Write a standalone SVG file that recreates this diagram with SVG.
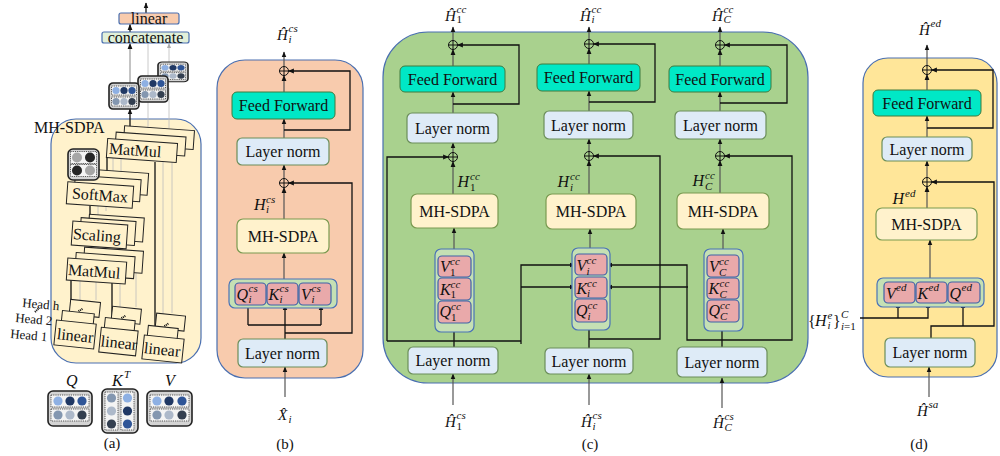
<svg xmlns="http://www.w3.org/2000/svg" width="1000" height="456" viewBox="0 0 1000 456">
<style>
.t{font-family:"Liberation Serif",serif;font-size:16px;fill:#111;text-anchor:middle}
.ta{font-family:"Liberation Serif",serif;font-size:16px;fill:#111}
.hd{font-family:"Liberation Serif",serif;font-size:13px;fill:#111}
.cap{font-family:"Liberation Serif",serif;font-size:15px;fill:#111;text-anchor:middle}
.m{font-family:"Liberation Serif",serif;font-style:italic;font-size:15px;fill:#111}
.mb{font-family:"Liberation Serif",serif;font-style:italic;font-size:16px;fill:#111}
.s{font-family:"Liberation Serif",serif;font-style:italic;font-size:11px;fill:#111}
.n{font-family:"Liberation Serif",serif;font-size:11px;fill:#111}
.up{font-family:"Liberation Serif",serif;font-size:16px;fill:#111}
.ff{fill:#00e8c6;stroke:#3f7a3f;stroke-width:1}
.ln{fill:#deebf7;stroke:#6b8e5a;stroke-width:1.2}
.sd{fill:#fff2cc;stroke:#7a9a50;stroke-width:1.2}
.grp{fill:#c5e0b4;stroke:#4a72b8;stroke-width:1.2}
.pk{fill:#e9a9aa;stroke:#3f62a8;stroke-width:1.2}
.w{fill:none;stroke:#555;stroke-width:1.2}
.k{fill:none;stroke:#111;stroke-width:1.3}
.g{fill:none;stroke:#bdbdbd;stroke-width:0.8}
.op{fill:#fff2cc;stroke:#222;stroke-width:1}
.mx{fill:#d4d4d4;stroke:#222;stroke-width:1.6}
.row{fill:#f4f4f4;stroke:#333;stroke-width:0.8;stroke-dasharray:1.2 1}
.pan{stroke:#4a6fb0;stroke-width:1.2}
</style>
<defs>
<marker id="ah" viewBox="0 0 10 10" refX="9" refY="5" markerWidth="6" markerHeight="6" markerUnits="userSpaceOnUse" orient="auto"><path d="M0,1 L10,5 L0,9 z" fill="#111"/></marker>
<marker id="ahg" viewBox="0 0 10 10" refX="9" refY="5" markerWidth="5" markerHeight="5" markerUnits="userSpaceOnUse" orient="auto"><path d="M0,1 L10,5 L0,9 z" fill="#aaa"/></marker>
<g id="op"><circle r="4.5" fill="none" stroke="#111" stroke-width="1"/><path d="M-4.5,0H4.5M0,-4.5V4.5" stroke="#111" stroke-width="1"/></g>
<g id="m23">
<rect x="0" y="0" width="30" height="26" rx="4" class="mx"/>
<rect x="2.5" y="3" width="25" height="9" class="row"/>
<rect x="2.5" y="14" width="25" height="9" class="row"/>
<circle cx="7" cy="7.5" r="3.6" fill="#8eb0e3"/>
<circle cx="15" cy="7.5" r="3.6" fill="#203864"/>
<circle cx="23" cy="7.5" r="3.6" fill="#2f5597"/>
<circle cx="7" cy="18.5" r="3.6" fill="#8497b0"/>
<circle cx="15" cy="18.5" r="3.6" fill="#adb9ca"/>
<circle cx="23" cy="18.5" r="3.6" fill="#333f50"/>
</g>
</defs>

<!-- panel backgrounds -->
<g id="panel-a"><rect class="pan" x="51" y="119" width="150" height="244" rx="25" fill="#fff2cc"/></g>
<g id="panel-b"><rect class="pan" x="217" y="60" width="146" height="318" rx="28" fill="#f8cbad"/></g>
<g id="panel-c"><rect class="pan" x="383" y="32" width="425" height="351" rx="45" fill="#a9d18e"/></g>
<g id="panel-d"><rect class="pan" x="863" y="58" width="134" height="319" rx="25" fill="#ffe699"/></g>

<!-- connectors -->
<g id="connectors">
<!-- (a) light lines -->
<path class="g" d="M80,313V266M96,300V254M120,320V267M136,307V255M163,327V148M172,313V141M98,254V241M106,248V235M98,217V200M106,211V193M113,178V153M121,171V146M148,135V102M169,128V88"/>
<path class="g" d="M148,76V43.5M169,62V43.5" marker-end="url(#ahg)"/>
<path d="M130,83V43.5" fill="none" stroke="#888" stroke-width="1" marker-end="url(#ah)"/>
<path class="k" stroke-width="1" d="M130,32V24.5" marker-end="url(#ah)"/>
<path class="k" stroke-width="1" d="M146,13V3" marker-end="url(#ah)"/>
<path class="k" stroke-width="1" d="M71,322V279M112,329V282M155,337V162M90,260V247M90,223V206M107,184V158M130,141V109" marker-end="url(#ah)"/>

<!-- (b) -->
<path class="w" d="M284,66.5V52" marker-end="url(#ah)"/>
<path class="w" d="M284,92V75.5" marker-end="url(#ah)"/>
<path class="w" d="M284,138V119" marker-end="url(#ah)"/>
<path class="k" d="M284,130H350V71H288.5" marker-end="url(#ah)"/>
<path class="w" d="M284,178.5V165" marker-end="url(#ah)"/>
<path class="w" d="M284,219V187.5" marker-end="url(#ah)"/>
<path class="w" d="M284,279V253" marker-end="url(#ah)"/>
<path class="k" d="M285,333H352V183H288.5" marker-end="url(#ah)"/>
<path class="k" d="M285,339V305" marker-end="url(#ah)"/>
<path class="k" d="M248,325H321"/>
<path class="k" d="M248,325V305M321,325V305" marker-end="url(#ah)"/>
<path class="w" d="M285,397V367" marker-end="url(#ah)"/>

<!-- (c) col1 -->
<path class="w" d="M453,66V49.5" marker-end="url(#ah)"/>
<path class="w" d="M453,40.5V27" marker-end="url(#ah)"/>
<path class="w" d="M453,113V92" marker-end="url(#ah)"/>
<path class="k" d="M453,104H519V45H457.5" marker-end="url(#ah)"/>
<path class="w" d="M453,152.5V143" marker-end="url(#ah)"/>
<path class="w" d="M453,194V161.5" marker-end="url(#ah)"/>
<path class="w" d="M454,249V228" marker-end="url(#ah)"/>
<path class="k" d="M454,347V323" marker-end="url(#ah)"/>
<path class="k" d="M387,341V157H448.5" marker-end="url(#ah)"/>
<path class="k" d="M387,341H521"/>
<path class="k" d="M521,344V265H575" marker-end="url(#ah)"/>
<path class="k" d="M521,287H575" marker-end="url(#ah)"/>
<path class="w" d="M453,405V374" marker-end="url(#ah)"/>
<!-- (c) col2 -->
<path class="w" d="M589,64V48.5" marker-end="url(#ah)"/>
<path class="w" d="M589,39.5V27" marker-end="url(#ah)"/>
<path class="w" d="M589,111V91" marker-end="url(#ah)"/>
<path class="k" d="M589,102H655V44H593.5" marker-end="url(#ah)"/>
<path class="w" d="M589,151.5V139" marker-end="url(#ah)"/>
<path class="w" d="M589,194V160.5" marker-end="url(#ah)"/>
<path class="w" d="M590,248V229" marker-end="url(#ah)"/>
<path class="k" d="M589,348V322" marker-end="url(#ah)"/>
<path class="k" d="M589,339H660V156H593.5" marker-end="url(#ah)"/>
<path class="w" d="M589,405V374" marker-end="url(#ah)"/>
<!-- (c) col3 -->
<path class="w" d="M720,66V49.5" marker-end="url(#ah)"/>
<path class="w" d="M720,40.5V27" marker-end="url(#ah)"/>
<path class="w" d="M720,111V92" marker-end="url(#ah)"/>
<path class="k" d="M720,103H787V45H724.5" marker-end="url(#ah)"/>
<path class="w" d="M720,151.5V139" marker-end="url(#ah)"/>
<path class="w" d="M720,193V160.5" marker-end="url(#ah)"/>
<path class="w" d="M723,249V229" marker-end="url(#ah)"/>
<path class="k" d="M722,347V322" marker-end="url(#ah)"/>
<path class="k" d="M722,340H792V156H724.5" marker-end="url(#ah)"/>
<path class="k" d="M722,340H687V265H607" marker-end="url(#ah)"/>
<path class="k" d="M688,287H607" marker-end="url(#ah)"/>
<path class="w" d="M722,408V378" marker-end="url(#ah)"/>

<!-- (d) -->
<path class="w" d="M927,65.5V45" marker-end="url(#ah)"/>
<path class="w" d="M927,90V74.5" marker-end="url(#ah)"/>
<path class="w" d="M927,137V116" marker-end="url(#ah)"/>
<path class="k" d="M927,128H993V70H931.5" marker-end="url(#ah)"/>
<path class="w" d="M927,177.5V161" marker-end="url(#ah)"/>
<path class="w" d="M927,208V186.5" marker-end="url(#ah)"/>
<path class="w" d="M930,278V240" marker-end="url(#ah)"/>
<path class="k" d="M860,318H928V303" marker-end="url(#ah)"/>
<path class="k" d="M898,318V303" marker-end="url(#ah)"/>
<path class="k" d="M931,338V326H994V182H931.5" marker-end="url(#ah)"/>
<path class="k" d="M963,326V303" marker-end="url(#ah)"/>
<path class="w" d="M929,397V367" marker-end="url(#ah)"/>
</g>

<!-- ===== panel (a) nodes ===== -->
<g id="a-linear-out"><rect x="119" y="13" width="60" height="11" rx="2" fill="#f8cbad" stroke="#4a6fb0" stroke-width="1.2"/><text class="t" x="149" y="23.5">linear</text></g>
<g id="a-concat"><rect x="102" y="32" width="87" height="11" rx="2" fill="#e2f0d9" stroke="#4a6fb0" stroke-width="1.2"/><text class="t" x="145.5" y="42.5">concatenate</text></g>
<g id="a-heads-out">
<use href="#m23" transform="translate(158,62) scale(1,0.76)"/>
<use href="#m23" x="138" y="76"/>
<use href="#m23" x="109" y="83"/>
</g>
<text class="ta" x="34" y="133">MH-SDPA</text>
<g id="a-matmul2" transform="rotate(4 142 150)">
<rect class="op" x="123" y="127" width="70" height="19"/>
<rect class="op" x="115" y="134" width="70" height="19"/>
<rect class="op" x="107" y="141" width="70" height="19"/>
<text class="ta" x="109" y="156">MatMul</text>
</g>
<g id="a-softmax" transform="rotate(4 100 195)">
<rect class="op" x="81" y="170" width="66" height="22"/>
<rect class="op" x="74" y="177" width="66" height="22"/>
<rect class="op" x="67" y="184" width="66" height="22"/>
<text class="ta" x="72" y="200.5">SoftMax</text>
</g>
<g id="a-attn">
<rect x="68" y="149" width="31" height="31" rx="5" class="mx"/>
<rect x="70.5" y="151.5" width="26" height="12" class="row"/>
<rect x="70.5" y="164.5" width="26" height="12" class="row"/>
<circle cx="77" cy="157.5" r="5" fill="#a6a6a6"/>
<circle cx="90" cy="157.5" r="5" fill="#262626"/>
<circle cx="77" cy="170.5" r="5" fill="#262626"/>
<circle cx="90" cy="170.5" r="5" fill="#a6a6a6"/>
</g>
<g id="a-scaling" transform="rotate(4 100 235)">
<rect class="op" x="88" y="215" width="55" height="24"/>
<rect class="op" x="80" y="219" width="55" height="24"/>
<rect class="op" x="72" y="223" width="55" height="24"/>
<text class="ta" x="73" y="241">Scaling</text>
</g>
<g id="a-matmul1" transform="rotate(4 96 271)">
<rect class="op" x="83" y="248" width="59" height="22"/>
<rect class="op" x="75" y="254" width="59" height="22"/>
<rect class="op" x="67" y="260" width="59" height="22"/>
<text class="ta" x="68" y="277">MatMul</text>
</g>
<g id="a-linear1" transform="rotate(6 75 335)">
<rect class="op" x="67" y="300" width="30" height="15"/>
<rect class="op" x="60" y="312" width="32" height="15"/>
<path d="M76,311L80,308" stroke="#111" stroke-width="2" stroke-dasharray="1 0.8"/>
<rect class="op" x="55" y="322" width="40" height="25"/>
<text class="ta" x="57" y="341">linear</text>
</g>
<g id="a-linear2" transform="rotate(6 118 341)">
<rect class="op" x="109" y="307" width="29" height="15"/>
<rect class="op" x="103" y="319" width="30" height="15"/>
<path d="M119,318L123,315" stroke="#111" stroke-width="2" stroke-dasharray="1 0.8"/>
<rect class="op" x="100" y="329" width="37" height="25"/>
<text class="ta" x="101" y="348">linear</text>
</g>
<g id="a-linear3" transform="rotate(6 163 349)">
<rect class="op" x="153" y="314" width="29" height="15"/>
<rect class="op" x="146" y="327" width="30" height="15"/>
<path d="M162,326L166,323" stroke="#111" stroke-width="2" stroke-dasharray="1 0.8"/>
<rect class="op" x="143" y="337" width="40" height="24"/>
<text class="ta" x="144" y="355">linear</text>
</g>
<g id="a-heads">
<text class="hd" x="22" y="307" transform="rotate(5 22 307)">Head h</text>
<path d="M35,312L39,308" stroke="#111" stroke-width="2" stroke-dasharray="1 0.8"/>
<text class="hd" x="15" y="322" transform="rotate(5 15 322)">Head 2</text>
<text class="hd" x="10" y="338" transform="rotate(5 10 338)">Head 1</text>
</g>
<g id="a-Q">
<text class="mb" x="66" y="386" font-size="17">Q</text>
<rect x="48" y="391" width="44" height="35" rx="5" class="mx"/>
<rect x="51" y="395" width="38" height="12" class="row"/>
<rect x="51" y="409" width="38" height="12" class="row"/>
<circle cx="58" cy="401" r="4.6" fill="#8eb0e3"/><circle cx="70" cy="401" r="4.6" fill="#203864"/><circle cx="82" cy="401" r="4.6" fill="#2f5597"/>
<circle cx="58" cy="415" r="4.6" fill="#8497b0"/><circle cx="70" cy="415" r="4.6" fill="#adb9ca"/><circle cx="82" cy="415" r="4.6" fill="#333f50"/>
</g>
<g id="a-K">
<text class="mb" x="112" y="386" font-size="17">K</text><text class="s" x="124" y="378" font-size="12">T</text>
<rect x="102" y="389" width="36" height="44" rx="5" class="mx"/>
<rect x="105" y="392" width="13" height="38" class="row"/>
<rect x="121" y="392" width="13" height="38" class="row"/>
<circle cx="111.5" cy="398" r="4.6" fill="#8497b0"/><circle cx="111.5" cy="411" r="4.6" fill="#adb9ca"/><circle cx="111.5" cy="424" r="4.6" fill="#333f50"/>
<circle cx="127.5" cy="398" r="4.6" fill="#8eb0e3"/><circle cx="127.5" cy="411" r="4.6" fill="#203864"/><circle cx="127.5" cy="424" r="4.6" fill="#2f5597"/>
</g>
<g id="a-V">
<text class="mb" x="165" y="386" font-size="17">V</text>
<rect x="147" y="391" width="45" height="35" rx="5" class="mx"/>
<rect x="150" y="395" width="39" height="12" class="row"/>
<rect x="150" y="409" width="39" height="12" class="row"/>
<circle cx="157" cy="401" r="4.6" fill="#8eb0e3"/><circle cx="169" cy="401" r="4.6" fill="#203864"/><circle cx="182" cy="401" r="4.6" fill="#2f5597"/>
<circle cx="157" cy="415" r="4.6" fill="#8497b0"/><circle cx="169" cy="415" r="4.6" fill="#adb9ca"/><circle cx="182" cy="415" r="4.6" fill="#333f50"/>
</g>
<text class="cap" x="112" y="448">(a)</text>

<!-- ===== panel (b) nodes ===== -->
<g id="b-out"><text class="m" x="277" y="40">Ĥ</text><text class="s" x="288.5" y="32">cs</text><text class="s" x="288.5" y="43">i</text></g>
<use id="b-add2" href="#op" x="284" y="71"/>
<g id="b-ff"><rect class="ff" x="232" y="92" width="103" height="27" rx="5"/><text class="t" x="283.5" y="111">Feed Forward</text></g>
<g id="b-ln1"><rect class="ln" x="237" y="138" width="92" height="27" rx="5"/><text class="t" x="283" y="157">Layer norm</text></g>
<use id="b-add1" href="#op" x="284" y="183"/>
<g id="b-h"><text class="mb" x="254" y="210">H</text><text class="s" x="266" y="202.5">cs</text><text class="s" x="266" y="213">i</text></g>
<g id="b-sdpa"><rect class="sd" x="237" y="219" width="92" height="34" rx="6"/><text class="t" x="283" y="241.5">MH-SDPA</text></g>
<g id="b-qkv">
<rect class="grp" x="229" y="279" width="108" height="29" rx="6"/>
<rect class="pk" x="235" y="283" width="31" height="22" rx="4"/>
<rect class="pk" x="267" y="283" width="31" height="22" rx="4"/>
<rect class="pk" x="299" y="283" width="32" height="22" rx="4"/>
<text class="mb" x="236.5" y="300">Q</text><text class="s" x="248.5" y="292">cs</text><text class="s" x="248.5" y="303">i</text>
<text class="mb" x="268.5" y="300">K</text><text class="s" x="279.5" y="292">cs</text><text class="s" x="279.5" y="303">i</text>
<text class="mb" x="301" y="300">V</text><text class="s" x="311.5" y="292">cs</text><text class="s" x="311.5" y="303">i</text>
</g>
<g id="b-ln0"><rect class="ln" x="238" y="339" width="89" height="28" rx="5"/><text class="t" x="282.5" y="358.5">Layer norm</text></g>
<g id="b-in"><text class="m" x="278" y="420">X̂</text><text class="s" x="288.5" y="423">i</text></g>
<text class="cap" x="285" y="449">(b)</text>

<!-- ===== panel (c) nodes ===== -->
<g id="c1-out"><text class="m" x="445" y="21">Ĥ</text><text class="s" x="456.5" y="12.5">cc</text><text class="n" x="456.5" y="23">1</text></g>
<use id="c1-add2" href="#op" x="453" y="45"/>
<g id="c1-ff"><rect class="ff" x="400" y="66" width="105" height="26" rx="5"/><text class="t" x="452.5" y="84.5">Feed Forward</text></g>
<g id="c1-ln1"><rect class="ln" x="407" y="113" width="91" height="30" rx="5"/><text class="t" x="452.5" y="133.5">Layer norm</text></g>
<use id="c1-add1" href="#op" x="453" y="157"/>
<g id="c1-h"><text class="mb" x="457.5" y="187">H</text><text class="s" x="470" y="180">cc</text><text class="n" x="470" y="191">1</text></g>
<g id="c1-sdpa"><rect class="sd" x="411" y="194" width="87" height="34" rx="6"/><text class="t" x="454.5" y="216.5">MH-SDPA</text></g>
<g id="c1-qkv">
<rect class="grp" x="435" y="249" width="39" height="83" rx="6"/>
<rect class="pk" x="438" y="256" width="33" height="21" rx="4"/>
<rect class="pk" x="438" y="278" width="33" height="22" rx="4"/>
<rect class="pk" x="438" y="301" width="33" height="22" rx="4"/>
<text class="mb" x="440" y="272">V</text><text class="s" x="450" y="265">cc</text><text class="n" x="450" y="275.5">1</text>
<text class="mb" x="440" y="294.5">K</text><text class="s" x="450.5" y="287.5">cc</text><text class="n" x="450.5" y="298">1</text>
<text class="mb" x="439.5" y="317">Q</text><text class="s" x="451" y="310">cc</text><text class="n" x="451" y="320.5">1</text>
</g>
<g id="c1-ln0"><rect class="ln" x="408" y="347" width="90" height="27" rx="5"/><text class="t" x="453" y="366">Layer norm</text></g>
<g id="c1-in"><text class="m" x="445" y="427">Ĥ</text><text class="s" x="456.5" y="419">cs</text><text class="n" x="456.5" y="429.5">1</text></g>

<g id="c2-out"><text class="m" x="580" y="21">Ĥ</text><text class="s" x="591.5" y="12.5">cc</text><text class="s" x="591.5" y="23">i</text></g>
<use id="c2-add2" href="#op" x="589" y="44"/>
<g id="c2-ff"><rect class="ff" x="537" y="64" width="103" height="27" rx="5"/><text class="t" x="588.5" y="83">Feed Forward</text></g>
<g id="c2-ln1"><rect class="ln" x="544" y="111" width="89" height="28" rx="5"/><text class="t" x="588.5" y="130.5">Layer norm</text></g>
<use id="c2-add1" href="#op" x="589" y="156"/>
<g id="c2-h"><text class="mb" x="557.5" y="187">H</text><text class="s" x="570" y="180">cc</text><text class="s" x="570" y="191">i</text></g>
<g id="c2-sdpa"><rect class="sd" x="546" y="194" width="90" height="35" rx="6"/><text class="t" x="591" y="217">MH-SDPA</text></g>
<g id="c2-qkv">
<rect class="grp" x="572" y="248" width="38" height="82" rx="6"/>
<rect class="pk" x="575" y="254" width="32" height="21" rx="4"/>
<rect class="pk" x="575" y="277" width="32" height="21" rx="4"/>
<rect class="pk" x="575" y="299" width="32" height="23" rx="4"/>
<text class="mb" x="576.5" y="271">V</text><text class="s" x="586.5" y="264">cc</text><text class="s" x="586.5" y="274.5">i</text>
<text class="mb" x="576.5" y="293.5">K</text><text class="s" x="587" y="286.5">cc</text><text class="s" x="587" y="297">i</text>
<text class="mb" x="576" y="316">Q</text><text class="s" x="587.5" y="309">cc</text><text class="s" x="587.5" y="319.5">i</text>
</g>
<g id="c2-ln0"><rect class="ln" x="545" y="348" width="88" height="26" rx="5"/><text class="t" x="589" y="366.5">Layer norm</text></g>
<g id="c2-in"><text class="m" x="581" y="427">Ĥ</text><text class="s" x="592.5" y="419">cs</text><text class="s" x="592.5" y="429.5">i</text></g>
<text class="cap" x="590" y="449">(c)</text>

<g id="c3-out"><text class="m" x="712" y="21">Ĥ</text><text class="s" x="723.5" y="12.5">cc</text><text class="s" x="723.5" y="23">C</text></g>
<use id="c3-add2" href="#op" x="720" y="45"/>
<g id="c3-ff"><rect class="ff" x="669" y="66" width="102" height="26" rx="5"/><text class="t" x="720" y="84.5">Feed Forward</text></g>
<g id="c3-ln1"><rect class="ln" x="675" y="111" width="91" height="28" rx="5"/><text class="t" x="720.5" y="130.5">Layer norm</text></g>
<use id="c3-add1" href="#op" x="720" y="156"/>
<g id="c3-h"><text class="mb" x="692.5" y="186">H</text><text class="s" x="705" y="179">cc</text><text class="s" x="705" y="190">C</text></g>
<g id="c3-sdpa"><rect class="sd" x="677" y="193" width="92" height="36" rx="6"/><text class="t" x="723" y="216.5">MH-SDPA</text></g>
<g id="c3-qkv">
<rect class="grp" x="704" y="249" width="39" height="82" rx="6"/>
<rect class="pk" x="707" y="255" width="32" height="22" rx="4"/>
<rect class="pk" x="707" y="278" width="32" height="21" rx="4"/>
<rect class="pk" x="707" y="300" width="32" height="22" rx="4"/>
<text class="mb" x="709" y="272">V</text><text class="s" x="719" y="265">cc</text><text class="s" x="719" y="275.5">C</text>
<text class="mb" x="708.5" y="294">K</text><text class="s" x="719.5" y="287">cc</text><text class="s" x="719.5" y="297.5">C</text>
<text class="mb" x="708.5" y="316">Q</text><text class="s" x="720" y="309">cc</text><text class="s" x="720" y="319.5">C</text>
</g>
<g id="c3-ln0"><rect class="ln" x="677" y="347" width="90" height="30" rx="5"/><text class="t" x="722" y="367.5">Layer norm</text></g>
<g id="c3-in"><text class="m" x="713" y="428">Ĥ</text><text class="s" x="724.5" y="420">cs</text><text class="s" x="724.5" y="430.5">C</text></g>

<!-- ===== panel (d) nodes ===== -->
<g id="d-out"><text class="m" x="919" y="35">Ĥ</text><text class="s" x="930.5" y="27">ed</text></g>
<use id="d-add2" href="#op" x="927" y="70"/>
<g id="d-ff"><rect class="ff" x="873" y="90" width="108" height="26" rx="5"/><text class="t" x="927" y="108.5">Feed Forward</text></g>
<g id="d-ln1"><rect class="ln" x="882" y="137" width="90" height="24" rx="5"/><text class="t" x="927" y="154.5">Layer norm</text></g>
<use id="d-add1" href="#op" x="927" y="182"/>
<g id="d-h"><text class="mb" x="892.5" y="204">H</text><text class="s" x="905" y="196.5">ed</text></g>
<g id="d-sdpa"><rect class="sd" x="876" y="208" width="101" height="32" rx="6"/><text class="t" x="926.5" y="229.5">MH-SDPA</text></g>
<g id="d-qkv">
<rect class="grp" x="877" y="278" width="107" height="29" rx="6"/>
<rect class="pk" x="884" y="282" width="31" height="21" rx="4"/>
<rect class="pk" x="916" y="282" width="31" height="21" rx="4"/>
<rect class="pk" x="948" y="282" width="32" height="21" rx="4"/>
<text class="mb" x="886" y="299">V</text><text class="s" x="896" y="291">ed</text>
<text class="mb" x="917.5" y="299">K</text><text class="s" x="928.5" y="291">ed</text>
<text class="mb" x="949.5" y="299">Q</text><text class="s" x="961.5" y="291">ed</text>
</g>
<g id="d-enc"><text class="up" x="808" y="327">{</text><text class="mb" x="815" y="326">H</text><text class="s" x="827.5" y="318.5">e</text><text class="s" x="827.5" y="329">i</text><text class="up" x="833" y="327">}</text><text class="s" x="841" y="318">C</text><text class="s" x="841" y="330">i<tspan font-style="normal">=1</tspan></text></g>
<g id="d-ln0"><rect class="ln" x="885" y="338" width="90" height="29" rx="5"/><text class="t" x="930" y="358">Layer norm</text></g>
<g id="d-in"><text class="m" x="917" y="416">Ĥ</text><text class="s" x="928.5" y="408">sa</text></g>
<text class="cap" x="919" y="449">(d)</text>
</svg>
